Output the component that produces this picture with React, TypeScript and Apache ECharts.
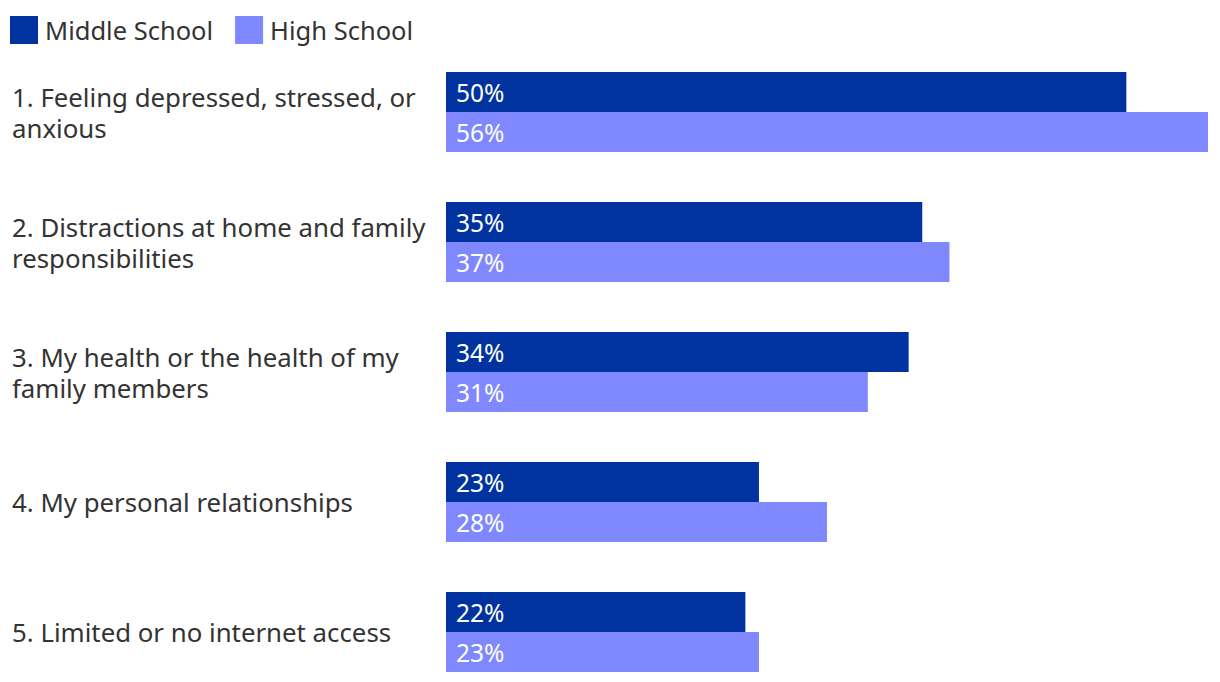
import React, { useEffect, useRef } from "react";
import * as echarts from "echarts";

const categories = [
  "1. Feeling depressed, stressed, or\nanxious",
  "2. Distractions at home and family\nresponsibilities",
  "3. My health or the health of my\nfamily members",
  "4. My personal relationships",
  "5. Limited or no internet access",
];
const middleSchool = [50, 35, 34, 23, 22];
const highSchool = [56, 37, 31, 28, 23];
const seriesNames = ["Middle School", "High School"];
const colors = ["#0033A0", "#8088FF"];
const FONT = "Noto Sans";

export default function App() {
  const ref = useRef<HTMLDivElement>(null);
  useEffect(() => {
    document.body.style.margin = "0";
    document.body.style.overflow = "hidden";
    document.documentElement.style.overflow = "hidden";
    const chart = echarts.init(ref.current!, null, { renderer: "svg" });
    const label = {
      show: true,
      position: "insideLeft",
      distance: 10,
      color: "#ffffff",
      fontSize: 24.5,
      fontFamily: FONT,
      formatter: "{c}%",
    };
    chart.setOption({
      animation: false,
      legend: {
        left: 10,
        top: 16,
        padding: 0,
        itemWidth: 28,
        itemHeight: 28,
        itemGap: 22,
        icon: "rect",
        textStyle: {
          fontSize: 25.5,
          lineHeight: 28,
          color: "#333333",
          fontFamily: FONT,
          padding: [0, 0, 0, 2],
        },
        data: seriesNames,
      },
      grid: { left: 446, top: 47, width: 762, height: 650 },
      xAxis: { type: "value", min: 0, max: 56, show: false },
      yAxis: {
        type: "category",
        inverse: true,
        data: categories,
        axisLine: { show: false },
        axisTick: { show: false },
        splitLine: { show: false },
        axisLabel: {
          align: "left",
          margin: 434,
          fontSize: 25.8,
          lineHeight: 31,
          color: "#333333",
          fontFamily: FONT,
        },
      },
      series: [
        {
          name: seriesNames[0],
          type: "bar",
          data: middleSchool,
          barWidth: 40,
          barGap: "0%",
          itemStyle: { color: colors[0] },
          label,
        },
        {
          name: seriesNames[1],
          type: "bar",
          data: highSchool,
          barWidth: 40,
          barGap: "0%",
          itemStyle: { color: colors[1] },
          label,
        },
      ],
    });
    return () => chart.dispose();
  }, []);
  return <div ref={ref} style={{ width: 1220, height: 710 }} />;
}
